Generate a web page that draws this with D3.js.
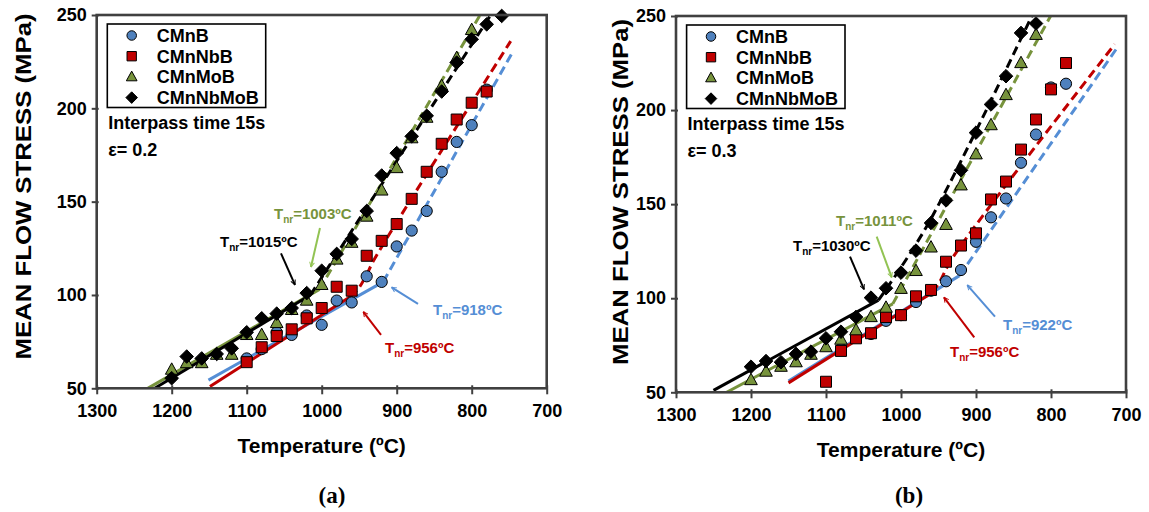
<!doctype html>
<html lang="en">
<head>
    <meta charset="utf-8">
    <script src="https://d3js.org/d3.v7.min.js"></script>
    <style>
        body { margin:0; background:#fff; }
        text { font-weight: bold; }
    </style>
    <title>Mean flow stress</title>
</head>
<body>
<script>
    // temperatures of the passes (ºC)
    var temps = [1200,1180,1160,1140,1120,1100,1080,1060,1040,1020,1000,980,960,940,920,900,880,860,840,820,800,780,760];
    var series = ["CMnB","CMnNbB","CMnMoB","CMnNbMoB"];
    var yTicks = [50,100,150,200,250];
    var xTicks = [1300,1200,1100,1000,900,800,700];

    // (a) strain 0.2
    var a_CMnB     = [null,null,null,null,null,66,71,80,78.6,89,84,97,96,110,107,126,134.5,145,166,182,191,210,null];
    var a_CMnNbB   = [null,null,null,null,null,64,72,78,81.6,87.5,93,104.4,102.3,121,129,138,151.5,166,181,194,203,209,null];
    var a_CMnMoB   = [60,63.5,63.5,68,68,78.6,78.6,85,92,97,105.4,119,128,142,156,168,184,195,212,227,242,null,null];
    var a_CMnNbMoB = [55.4,67,66,68.4,71.4,80,87.5,90,93,101,113,122,130,145,164,176,185,196,209,224.5,237,245,249.5];

    // (b) strain 0.3
    var b_CMnB     = [null,null,null,null,null,null,73,80,81,88,91,98,104,109,115,130,143,153,172,187,212,214,null];
    var b_CMnNbB   = [null,null,null,null,null,55.6,72,78.7,81.4,90,91,101,104.4,119.4,128,134.5,152.5,162,179,195,211,225,null];
    var b_CMnMoB   = [56.5,61,63.6,66,70,74,78,83,90,95,105,114.5,127,139,160,176.5,192,208,225,240,null,null,null];
    var b_CMnNbMoB = [63.6,66.6,66,70.4,71.6,78.7,82.2,90,100.3,105.3,113.6,125.3,140,152,168,188,203,218,241,246,null,null,null];

    // trend lines [T, stress]: series, solid part, dashed part
    var trendA = [
        ["CMnB",     [[1151,54.4],[918,107]], [[918,107],[747,229]]],
        ["CMnNbB",   [[1149,51],[962,99]],    [[962,99],[950,104],[940,111],[930,119],[748,236]]],
        ["CMnMoB",   [[1236,49],[1003,103]],  [[1003,103],[780,256]]],
        ["CMnNbMoB", [[1227,49],[1015,100]],  [[1015,100],[765,256]]]
    ];
    var trendB = [
        ["CMnB",     [[1150,56],[922,112]],   [[922,112],[712,233]]],
        ["CMnNbB",   [[1150,55],[958,103]],   [[958,103],[948,109],[932,121],[715,235]]],
        ["CMnMoB",   [[1235,49.5],[1011,97]], [[1011,97],[795,254]]],
        ["CMnNbMoB", [[1250,51],[1030,99]],   [[1030,99],[966,138],[822,253]]]
    ];

    // Tnr labels: series, value, text anchor [T, stress], arrow from, arrow to
    var notesA = [
        ["CMnMoB",   "1003", [1063.6,140.5], [1002.3,135.9], [1014.3,115]],
        ["CMnNbMoB", "1015", [1135.6,125.9], [1054.3,122.3], [1035.6,105.4]],
        ["CMnB",     "918",  [851.6,89.3],   [871.6,95.2],   [906.7,104.1]],
        ["CMnNbB",   "956",  [915.6,69.1],   [920.9,78.6],   [944.5,91]]
    ];
    var notesB = [
        ["CMnMoB",   "1011", [1086.7,138.4], [1032.4,132.7], [1012.4,111.1]],
        ["CMnNbMoB", "1030", [1144,125.1],   [1068,122.1],   [1049.3,104.7]],
        ["CMnB",     "922",  [864,83.1],     [874.7,90.2],   [911.6,107]],
        ["CMnNbB",   "956",  [934.7,68.9],   [902.3,79.2],   [942.7,100.5]]
    ];

    var fillCol  = {CMnB:"#4f81bd", CMnNbB:"#c00000", CMnMoB:"#77933c", CMnNbMoB:"#000"};
    var lineCol  = {CMnB:"#558ed5", CMnNbB:"#c00000", CMnMoB:"#77933c", CMnNbMoB:"#000"};
    var textCol  = {CMnB:"#558ed5", CMnNbB:"#c00000", CMnMoB:"#77933c", CMnNbMoB:"#000"};
    var arrowCol = {CMnB:"#558ed5", CMnNbB:"#c00000", CMnMoB:"#92c353", CMnNbMoB:"#000"};
    var sans = "'Liberation Sans', Arial, sans-serif";

    var svg = d3.select("body").append("svg")
        .attr("width", 1149)
        .attr("height", 512)
        .style("font-family", sans);
    svg.append("rect").attr("width",1149).attr("height",512).attr("fill","#fff");

    var defs = svg.append("defs");
    Object.keys(arrowCol).forEach(function(k) {
        defs.append("marker")
            .attr("id", "arr-" + k)
            .attr("viewBox", "0 0 10 10")
            .attr("refX", 9).attr("refY", 5)
            .attr("markerWidth", 6).attr("markerHeight", 6)
            .attr("markerUnits", "userSpaceOnUse")
            .attr("orient", "auto")
            .append("path")
            .attr("d", "M1,1 L9,5 L1,9")
            .attr("fill", "none")
            .attr("stroke", arrowCol[k])
            .attr("stroke-width", 1.6);
    });

    function markerPath(name, k) {
        k = k || 1;
        if (name == "CMnB") return d3.symbol().type(d3.symbolCircle).size(Math.PI * 5.6 * 5.6 * k * k)();
        if (name == "CMnNbB") { var s = 5.5 * k; return "M" + (-s) + "," + (-s) + "H" + s + "V" + s + "H" + (-s) + "Z"; }
        if (name == "CMnMoB") return "M0," + (-6.8 * k) + "L" + (6.3 * k) + "," + (4.6 * k) + "L" + (-6.3 * k) + "," + (4.6 * k) + "Z";
        var d = 6.8 * k;
        return "M0," + (-d) + "L" + d + ",0L0," + d + "L" + (-d) + ",0Z";
    }

    function drawPanel(p) {
        var x = d3.scaleLinear().domain([1300, 700]).range([p.left, p.right]);
        var y = d3.scaleLinear().domain([50, 250]).range([p.bottom, p.top]);
        var g = svg.append("g");

        var clipId = "clip-" + p.id;
        defs.append("clipPath").attr("id", clipId)
            .append("rect")
            .attr("x", p.left).attr("y", p.top)
            .attr("width", p.right - p.left).attr("height", p.bottom - p.top);

        // trend lines
        var line = d3.line()
            .x(function(d) { return x(d[0]); })
            .y(function(d) { return y(d[1]); })
            .curve(d3.curveCatmullRom.alpha(0.5));
        var lg = g.append("g").attr("clip-path", "url(#" + clipId + ")");
        p.trend.forEach(function(t) {
            lg.append("path").attr("d", line(t[1]))
                .attr("fill", "none").attr("stroke", lineCol[t[0]]).attr("stroke-width", 3);
            lg.append("path").attr("d", line(t[2]))
                .attr("fill", "none").attr("stroke", lineCol[t[0]]).attr("stroke-width", 3)
                .attr("stroke-dasharray", "9,5");
        });

        // points
        series.forEach(function(s, i) {
            var vals = p.values[i];
            var pts = temps.map(function(t, j) { return [t, vals[j]]; })
                .filter(function(d) { return d[1] != null; });
            g.append("g").selectAll("path")
                .data(pts)
                .enter().append("path")
                .attr("d", markerPath(s))
                .attr("transform", function(d) { return "translate(" + x(d[0]) + "," + y(d[1]) + ")"; })
                .attr("fill", fillCol[s])
                .attr("stroke", "#000")
                .attr("stroke-width", 1);
        });

        // frame
        g.append("rect")
            .attr("x", p.left).attr("y", p.top)
            .attr("width", p.right - p.left).attr("height", p.bottom - p.top)
            .attr("fill", "none").attr("stroke", "#404040").attr("stroke-width", 2.6);

        // x axis
        var xa = g.append("g")
            .attr("transform", "translate(0," + p.bottom + ")")
            .call(d3.axisBottom(x).tickValues(xTicks).tickSize(6).tickPadding(10).tickFormat(d3.format("d")));
        xa.select(".domain").remove();
        xa.selectAll(".tick line").attr("y1", -3).attr("stroke", "#404040").attr("stroke-width", 2);
        xa.selectAll(".tick text").attr("font-size", 18).attr("fill", "#000")
            .style("font-family", sans).style("font-weight", "bold");

        // y axis
        var ya = g.append("g")
            .attr("transform", "translate(" + p.left + ",0)")
            .call(d3.axisLeft(y).tickValues(yTicks).tickSize(5).tickPadding(5));
        ya.select(".domain").remove();
        ya.selectAll(".tick line").attr("x1", 2).attr("stroke", "#404040").attr("stroke-width", 2);
        ya.selectAll(".tick text").attr("font-size", 18).attr("fill", "#000")
            .style("font-family", sans).style("font-weight", "bold");

        // axis titles
        g.append("text")
            .attr("x", (p.left + p.right) / 2).attr("y", p.bottom + 65)
            .attr("text-anchor", "middle").attr("font-size", 21)
            .text("Temperature (ºC)");
        g.append("text")
            .attr("transform", "translate(" + p.yTitleX + "," + p.yTitleY + ") rotate(-90)")
            .attr("text-anchor", "middle").attr("font-size", 22)
            .attr("textLength", 346).attr("lengthAdjust", "spacingAndGlyphs")
            .text("MEAN FLOW STRESS (MPa)");

        // panel label
        g.append("text")
            .attr("x", p.labelX).attr("y", 503)
            .attr("text-anchor", "middle").attr("font-size", 23)
            .style("font-family", "'Liberation Serif', 'Times New Roman', serif")
            .text(p.label);

        // legend
        g.append("rect")
            .attr("x", p.left + 10.6).attr("y", p.top + 9)
            .attr("width", 158.4).attr("height", 83.5)
            .attr("fill", "#fff").attr("stroke", "#000").attr("stroke-width", 1.6);
        series.forEach(function(s, i) {
            var yy = p.top + 20.5 + i * 20.7;
            g.append("path")
                .attr("d", markerPath(s, 0.85))
                .attr("transform", "translate(" + (p.left + 35) + "," + yy + ")")
                .attr("fill", fillCol[s]).attr("stroke", "#000").attr("stroke-width", 1);
            g.append("text")
                .attr("x", p.left + 60).attr("y", yy + 6.5)
                .attr("font-size", 18)
                .text(s);
        });

        g.append("text").attr("x", p.left + 11.5).attr("y", p.top + 114)
            .attr("font-size", 18).text("Interpass time 15s");
        g.append("text").attr("x", p.left + 11.5).attr("y", p.top + 141)
            .attr("font-size", 18).text("ε= " + p.strain);

        // Tnr annotations
        p.notes.forEach(function(n) {
            g.append("line")
                .attr("x1", x(n[3][0])).attr("y1", y(n[3][1]))
                .attr("x2", x(n[4][0])).attr("y2", y(n[4][1]))
                .attr("stroke", arrowCol[n[0]]).attr("stroke-width", 2)
                .attr("marker-end", "url(#arr-" + n[0] + ")");
            var t = g.append("text")
                .attr("x", x(n[2][0])).attr("y", y(n[2][1]))
                .attr("font-size", 15).attr("fill", textCol[n[0]]);
            t.append("tspan").text("T");
            t.append("tspan").attr("font-size", 10).attr("dy", 4).text("nr");
            t.append("tspan").attr("dy", -4).text("=" + n[1] + "ºC");
        });
    }

    drawPanel({
        id: "a", left: 96.7, right: 546.7, top: 15, bottom: 388.3,
        values: [a_CMnB, a_CMnNbB, a_CMnMoB, a_CMnNbMoB],
        trend: trendA, notes: notesA, strain: "0.2",
        yTitleX: 31, yTitleY: 186.5, label: "(a)", labelX: 332
    });
    drawPanel({
        id: "b", left: 676, right: 1126, top: 16, bottom: 392.3,
        values: [b_CMnB, b_CMnNbB, b_CMnMoB, b_CMnNbMoB],
        trend: trendB, notes: notesB, strain: "0.3",
        yTitleX: 628, yTitleY: 192, label: "(b)", labelX: 909
    });
</script>
</body>
</html>
